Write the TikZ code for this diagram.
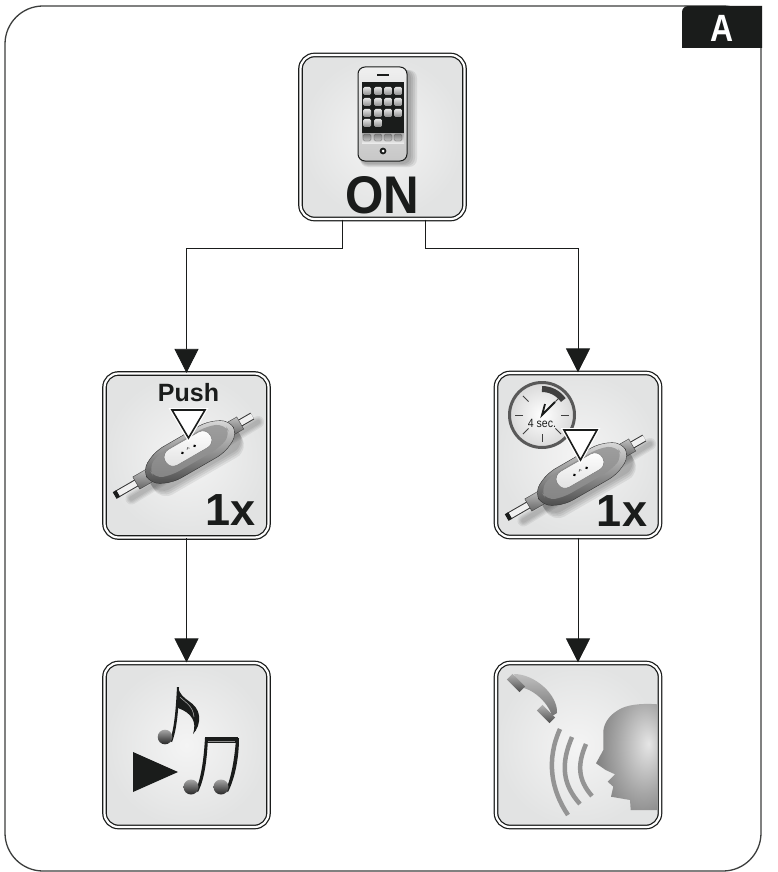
\documentclass[tikz,border=0pt]{standalone}
\usepackage{fontspec}
\setmainfont{Liberation Sans}
\newfontfamily\signfont[FakeStretch=0.93]{Liberation Sans}
\newfontfamily\tabfont[FakeStretch=0.84]{Liberation Sans}
\newfontfamily\dialfont[FakeStretch=0.88]{Liberation Sans}
\usetikzlibrary{arrows.meta,calc}
\definecolor{PanelInk}{HTML}{1A1C1B}
\definecolor{PanelFog}{HTML}{F4F4F4}
\definecolor{PanelEdge}{HTML}{E2E3E3}
\pgfdeclareradialshading{headlight}{\pgfpoint{18bp}{6bp}}{color(0bp)=(black!10); color(22bp)=(black!35); color(45bp)=(black!58); color(100bp)=(black!62)}

\tikzset{
  cordswitch/.pic={
    \foreach \s in {1,2,3,4}
      \draw[black,opacity=0.06,line width=2pt+2.5pt*\s,line cap=round] (-74,11) -- (74,8);
    \foreach \s in {1,2,3,4}
      \fill[black,opacity=0.07,rounded corners=14pt] (-50,-10) rectangle (52,20+2*\s);
    \draw[black!80,line width=7.6pt] (-84,0) -- (72,0);
    \draw[white!94!black,line width=5.6pt] (-83,0) -- (72,0);
    \fill[PanelInk] (-87,-3.8) rectangle (-83,3.8);
    \shade[top color=black!25,bottom color=black!60,draw=black!75] (-62,-7) rectangle (-46,7);
    \shade[top color=black!25,bottom color=black!60,draw=black!75] (46,-7) rectangle (58,7);
    \shade[top color=black!15,bottom color=black!70,draw=black!80,rounded corners=9pt] (-50,-8) -- (-30,-18) -- (30,-18) -- (50,-8) -- (50,8) -- (30,18) -- (-30,18) -- (-50,8) -- cycle;
    \shade[top color=black!38,bottom color=black!48,rounded corners=9pt] (-44,-7) -- (-28,-14) -- (28,-14) -- (44,-7) -- (44,5) -- (28,11) -- (-28,11) -- (-44,5) -- cycle;
    \shade[top color=white,bottom color=black!12,draw=black!55,rounded corners=8.5pt] (-26,-13) rectangle (26,5);
    \fill[black] (-7,-3) circle (1.5);
    \fill[black] (7,-3) circle (1.5);
    \draw[black!80,line width=.5pt] (-1.5,-3.5) arc (180:360:1.5);
  }
}

\begin{document}
\begin{tikzpicture}[
            x=1pt,y=-1pt,
            >={Triangle[length=24pt,width=24pt]},
            frame/.style={draw=PanelInk!85,line width=1.3pt,rounded corners=38pt},
            panel/.style={draw=PanelInk,line width=1.25pt,double=white,double distance=2.2pt,
              rounded corners=14pt,minimum width=164pt,minimum height=164pt,
              inner color=PanelFog,outer color=PanelEdge},
            flow/.style={->,draw=PanelInk,line width=.8pt},
            sign/.style={inner sep=0pt,anchor=base,text=PanelInk,font=\signfont\bfseries},
            cue/.style={draw=PanelInk,line width=1.6pt,fill=white,line join=miter},
            headball/.style={top color=black!35,bottom color=black!85},
            wave/.style={draw=black!42,line width=4.5pt}
          ]
          \useasboundingbox (0,0) rectangle (778,872);
          \fill[white] (0,0) rectangle (778,872);
          \draw[frame] (5,871) -- (5,6) -- (761,6) -- (761,871) -- cycle;
          \fill[PanelInk,rounded corners=6pt] (682,48) -- (682,6) -- (690,6) [sharp corners] -- (762,6) -- (762,48) -- cycle;
          \node[inner sep=0pt,text=white,font=\tabfont\bfseries\fontsize{38}{38}\selectfont,anchor=base] (tabA) at (722,42) {A};

          \node[panel] (onbox) at (382.5,137) {};
          \node[panel] (pushbox) at (186.5,455.5) {};
          \node[panel] (holdbox) at (578,455) {};
          \node[panel] (musicbox) at (186.5,745) {};
          \node[panel] (callbox) at (578,745) {};

          \draw[flow] ([xshift=-40.5pt]onbox.south) -- ++(0,29) -| (pushbox.north);
          \draw[flow] ([xshift=42.5pt]onbox.south) -- ++(0,29) -| (holdbox.north);
          \draw[flow] (pushbox.south) -- (musicbox.north);
          \draw[flow] (holdbox.south) -- (callbox.north);

          \foreach \s in {1,2,3,4}
            \fill[black,opacity=0.08,rounded corners=8pt] (360,70) rectangle (409+\s*2,163+\s);
          \shade[top color=black!6,bottom color=black!22,draw=PanelInk,line width=1pt,rounded corners=7pt] (358,67) rectangle (407,161);
          \fill[PanelInk] (362,82) rectangle (404,133);
          \shade[top color=black!35,bottom color=black!8] (362,133) rectangle (404,143);
          \fill[PanelInk] (377,74.3) rectangle (389,75.7);
          \fill[PanelInk] (383,151) circle (3.4);
          \fill[white] (383,151) circle (1.5);
          \foreach \x in {367,378,388,398}{
            \foreach \y in {91,102,113}
              \shade[top color=black!10,bottom color=black!45,rounded corners=1.5pt] (\x-4,\y-4) rectangle (\x+4,\y+4);
            \shade[top color=black!50,bottom color=black!22,rounded corners=1.5pt,draw=black!70,line width=.3pt] (\x-4,134) rectangle (\x+4,141);
          }
          \foreach \x in {367,378}
            \shade[top color=black!10,bottom color=black!45,rounded corners=1.5pt] (\x-4,119) rectangle (\x+4,127);
          \node[sign,font=\signfont\bfseries\fontsize{53}{53}\selectfont] (ontext) at (382.5,213) {ON};

          \node[sign,font=\bfseries\fontsize{25}{25}\selectfont] (pushtext) at (188.5,401) {Push};
          \pic[rotate=30] at (190,452) {cordswitch};
          \draw[white,line width=4pt,line join=miter] (172,410) -- (205,410) -- (188.5,438) -- cycle;
          \draw[cue] (172,410) -- (205,410) -- (188.5,438) -- cycle;
          \node[sign,font=\bfseries\fontsize{45}{45}\selectfont] (pushcount) at (231,525) {1x};

          \pic[rotate=30] at (582,474) {cordswitch};
          \shade[inner color=white,outer color=black!15] (542,415) circle (33);
          \draw[black!65,line width=3pt] (542,415) circle (32.5);
          \draw[black!75,line width=6pt] (542,389) arc (-90:-35:26);
          \foreach \a in {0,45,90,135,180,225,315}
            \draw[black!75,line width=.8pt] ($(542,415)+(\a:19)$) -- ($(542,415)+(\a:27)$);
          \draw[PanelInk,line width=1.8pt,line join=miter] (555,402) -- (542,415) -- (545,404);
          \node[inner sep=0pt,text=PanelInk,font=\dialfont\fontsize{12}{12}\selectfont] (holdtime) at (542,423) {4 sec.};
          \draw[white,line width=4pt,line join=miter] (564,430) -- (597,430) -- (580.5,460) -- cycle;
          \draw[cue] (564,430) -- (597,430) -- (580.5,460) -- cycle;
          \node[sign,font=\bfseries\fontsize{45}{45}\selectfont] (holdcount) at (622,526) {1x};

          \fill[PanelInk] (133,752) -- (178,772) -- (133,792) -- cycle;
          \fill[PanelInk] (170,741) .. controls (175,725) and (176,705) .. (177,687) -- (179,687) .. controls (179,705) and (177,730) .. (172,742) -- cycle;
          \fill[PanelInk] (178,687) .. controls (181,702) and (197,700) .. (199,716) .. controls (200,723) and (197,730) .. (193,734) .. controls (197,722) and (192,713) .. (178,708) -- cycle;
          \draw[black!35,line width=.6pt] (180,697) .. controls (186,703) and (193,706) .. (194,717);
          \shade[headball] (165,737) circle (7.3);
          \fill[PanelInk] (196,790) .. controls (202,775) and (204,755) .. (205,738) -- (208,738) .. controls (207,758) and (205,778) .. (198,792) -- cycle;
          \fill[PanelInk] (226,790) .. controls (232,775) and (235,755) .. (236,738) -- (239,738) .. controls (239,758) and (235,778) .. (228,792) -- cycle;
          \fill[PanelInk] (205,737) -- (238,737) -- (238,743) -- (205,743) -- cycle;
          \fill[black!45] (208,740.5) rectangle (235,741.5);
          \shade[headball] (191,787) circle (7.5);
          \shade[headball] (221,787) circle (7.5);

          \shade[top color=black!25,bottom color=black!55] (514,674) .. controls (535,674) and (558,695) .. (557,713) -- (552,716) .. controls (548,702) and (532,688) .. (519,687) -- cycle;
          \shade[top color=black!30,bottom color=black!70,rotate around={-45:(516,683)}] (507,679) rectangle (525,687);
          \shade[top color=black!30,bottom color=black!70,rotate around={-45:(546,714)}] (537,710) rectangle (555,718);
          \draw[wave] (560,729) .. controls (546,760) and (551,790) .. (568,815);
          \draw[wave] (572,737) .. controls (560,765) and (563,785) .. (580,804);
          \draw[wave] (586,744) .. controls (577,765) and (578,780) .. (592,796);
          \shade[shading=headlight] (657.3,704.3) .. controls (640,703) and (626,705) .. (618.3,710) .. controls (608,716) and (603,725) .. (603.3,733.3) -- (603.3,750) -- (596,763.3) -- (605.7,770) -- (615,774.3) -- (607.7,781.7) -- (613.3,786.7) -- (611,796.7) -- (630,800) -- (630.7,810) -- (657.3,810) -- cycle;
        \end{tikzpicture}
\end{document}
